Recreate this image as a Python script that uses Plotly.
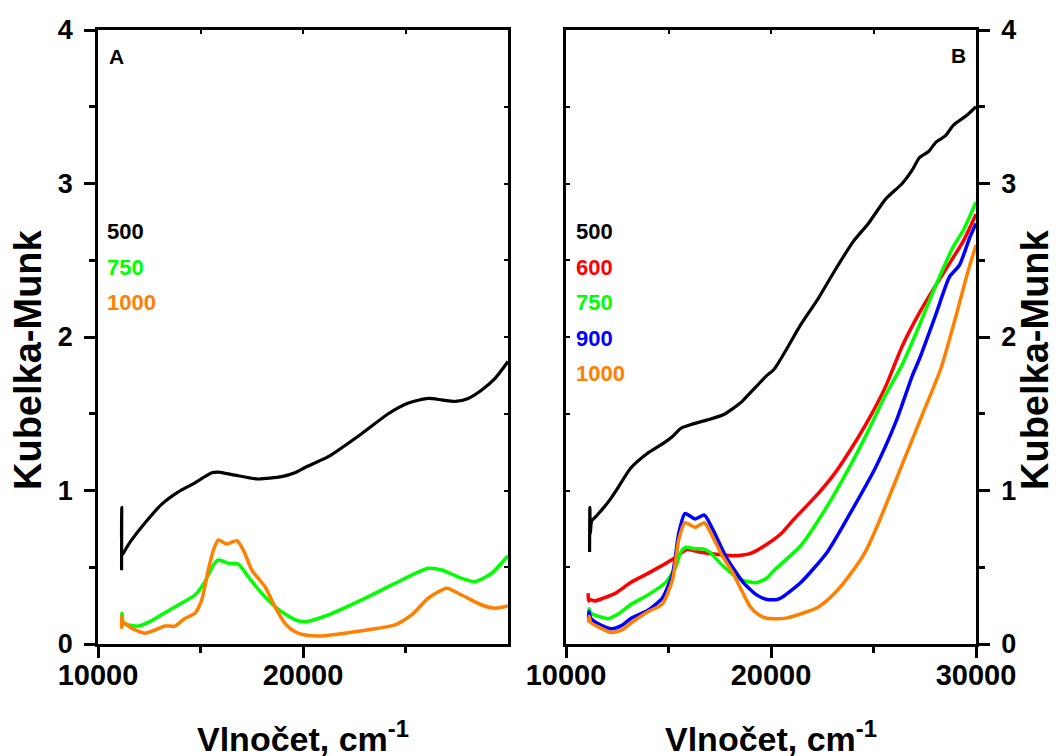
import plotly.graph_objects as go

# ---------------- data ----------------
# Panel A
a500_x = [11150, 11160, 11180, 11400, 11650, 12300, 13100, 13900, 14730, 15550, 15870, 16680, 17800, 18960,
          19600, 20100, 21230, 22860, 24160, 25140, 26110, 26770, 27420, 28060, 28720, 29370, 30000]
a500_y = [0.48, 0.89, 0.58, 0.63, 0.68, 0.79, 0.91, 0.99, 1.05, 1.115, 1.12, 1.10, 1.075, 1.09,
          1.115, 1.15, 1.22, 1.37, 1.50, 1.57, 1.60, 1.59, 1.58, 1.60, 1.655, 1.73, 1.84]

a750_x = [11150, 11170, 11240, 11480, 11970, 12620, 13270, 13920, 14730, 15220, 15630, 15870, 16360, 16840,
          17330, 17990, 18800, 19610, 20100, 21230, 22860, 24490, 26110, 26770, 27740, 28390, 29200, 30000]
a750_y = [0.15, 0.20, 0.135, 0.124, 0.117, 0.152, 0.204, 0.254, 0.319, 0.406, 0.515, 0.547, 0.526, 0.521,
          0.438, 0.330, 0.226, 0.158, 0.145, 0.189, 0.287, 0.395, 0.493, 0.482, 0.428, 0.406, 0.461, 0.575]

a1000_x = [11150, 11160, 11200, 11320, 11640, 12290, 12780, 13270, 13760, 14240, 14730, 15060, 15380, 15630,
           15870, 16280, 16770, 17090, 17500, 18150, 18630, 19120, 19610, 20100, 20910, 22050, 23670, 24490,
           25300, 26110, 27010, 27740, 28720, 29370, 30000]
a1000_y = [0.10, 0.18, 0.14, 0.135, 0.102, 0.070, 0.091, 0.117, 0.117, 0.167, 0.200, 0.287, 0.482, 0.612,
           0.678, 0.651, 0.673, 0.612, 0.482, 0.373, 0.243, 0.135, 0.080, 0.059, 0.052, 0.070, 0.102, 0.124,
           0.189, 0.298, 0.363, 0.319, 0.254, 0.233, 0.248]

# Panel B
b500_x = [11150, 11165, 11185, 11250, 11450, 11850, 12200, 12500, 13150, 13950, 14780, 15180, 15600,
          16100, 16900, 17700, 18500, 18800, 19300, 19800, 20150, 20800, 21450, 22300, 23100, 24000, 24750,
          25600, 26400, 26900, 27250, 27700, 28050, 28500, 28900, 29300, 29600, 30000]
b500_y = [0.60, 0.89, 0.72, 0.80, 0.83, 0.89, 0.95, 1.01, 1.145, 1.24, 1.31, 1.35, 1.405,
          1.43, 1.46, 1.495, 1.57, 1.61, 1.68, 1.75, 1.79, 1.93, 2.08, 2.25, 2.43, 2.62, 2.74,
          2.90, 3.00, 3.09, 3.17, 3.21, 3.27, 3.31, 3.38, 3.42, 3.45, 3.50]

b600_x = [11080, 11100, 11150, 11400, 11850, 12400, 13150, 14000, 14800, 15300, 15700, 15900, 16500, 17300,
          18150, 19000, 19800, 20500, 21100, 22300, 23100, 23900, 24750, 25600, 26400, 27250, 28050, 28900,
          29400, 30000]
b600_y = [0.33, 0.28, 0.29, 0.28, 0.30, 0.33, 0.40, 0.46, 0.52, 0.56, 0.60, 0.615, 0.60, 0.585,
          0.575, 0.59, 0.65, 0.72, 0.81, 0.98, 1.11, 1.27, 1.46, 1.68, 1.94, 2.16, 2.34, 2.52,
          2.63, 2.80]

b750_x = [11100, 11130, 11200, 11600, 12050, 12600, 13200, 14000, 14850, 15350, 15600, 15850, 16300, 16700,
          17000, 17650, 18500, 19300, 19800, 20150, 21450, 22750, 23900, 24750, 25500, 26400, 27250, 28050,
          28900, 29400, 30000]
b750_y = [0.18, 0.23, 0.20, 0.18, 0.165, 0.20, 0.26, 0.32, 0.40, 0.50, 0.60, 0.63, 0.62, 0.62,
          0.60, 0.51, 0.42, 0.40, 0.43, 0.48, 0.64, 0.90, 1.17, 1.39, 1.60, 1.82, 2.08, 2.34,
          2.59, 2.70, 2.88]

b900_x = [11100, 11130, 11200, 11600, 12200, 12700, 13200, 14000, 14700, 15200, 15500, 15800, 16300, 16750,
          17150, 17800, 18650, 19300, 19800, 20300, 20600, 21450, 22750, 23900, 25100, 26100, 26900, 27250,
          28050, 28700, 29200, 29700, 30000]
b900_y = [0.16, 0.21, 0.17, 0.13, 0.10, 0.12, 0.17, 0.22, 0.30, 0.46, 0.72, 0.85, 0.815, 0.84,
          0.75, 0.57, 0.40, 0.32, 0.29, 0.29, 0.31, 0.40, 0.60, 0.86, 1.15, 1.45, 1.75, 1.86,
          2.15, 2.39, 2.47, 2.65, 2.74]

b1000_x = [11100, 11130, 11200, 11600, 12200, 12700, 13200, 14000, 14700, 15200, 15500, 15800, 16300, 16750,
           17150, 17600, 18150, 18600, 19000, 19400, 19800, 20400, 20800, 22300, 23100, 23900, 24600, 25250,
           26400, 27400, 28300, 29050, 29550, 30000]
b1000_y = [0.14, 0.18, 0.14, 0.11, 0.075, 0.09, 0.14, 0.21, 0.26, 0.42, 0.68, 0.79, 0.76, 0.79,
           0.70, 0.58, 0.46, 0.34, 0.24, 0.19, 0.168, 0.165, 0.17, 0.24, 0.33, 0.46, 0.60, 0.79,
           1.17, 1.50, 1.80, 2.15, 2.40, 2.60]

labels_a = ["500", "750", "1000"]
labels_b = ["500", "600", "750", "900", "1000"]

x_major_a = [10000, 20000]
x_major_b = [10000, 20000, 30000]
x_minor = [15000, 25000]
y_major = [0, 1, 2, 3, 4]
y_minor = [0.5, 1.5, 2.5, 3.5]

# ---------------- styling ----------------
C = {"500": "#000000", "600": "#FF0000", "750": "#00FF00", "900": "#0000FF", "1000": "#FF8000"}
FONT = "Liberation Sans, Arial, sans-serif"
W, H = 1061, 756

fig = go.Figure()

def add(x, y, key, xa, ya, width=3.5):
    fig.add_trace(go.Scatter(x=x, y=y, mode="lines", xaxis=xa, yaxis=ya, showlegend=False,
                             line=dict(color=C[key], width=width, shape="spline", smoothing=0.6),
                             hoverinfo="skip"))

add(a750_x, a750_y, "750", "x", "y")
add(a1000_x, a1000_y, "1000", "x", "y")
add(a500_x, a500_y, "500", "x", "y", 3.2)

add(b600_x, b600_y, "600", "x2", "y2")
add(b750_x, b750_y, "750", "x2", "y2")
add(b900_x, b900_y, "900", "x2", "y2")
add(b1000_x, b1000_y, "1000", "x2", "y2")
add(b500_x, b500_y, "500", "x2", "y2", 3.2)

# dummy traces for mirror-tick axes
for xa, ya in [("x3", "y"), ("x", "y3"), ("x4", "y2"), ("x2", "y4")]:
    fig.add_trace(go.Scatter(x=[None], y=[None], xaxis=xa, yaxis=ya, showlegend=False, hoverinfo="skip"))

xd_a = [98 / W, 508 / W]
xd_b = [566 / W, 976 / W]
yd = [1 - 644 / H, 1 - 30 / H]

tickfont_x = dict(family=FONT, size=29, color="black", weight="bold")
tickfont_y = dict(family=FONT, size=27, color="black", weight="bold")

def xaxis(domain, anchor, tickvals):
    return dict(domain=domain, anchor=anchor, range=[10000, 30000], showgrid=False, zeroline=False,
                automargin=False,
                showline=True, linecolor="black", linewidth=2.5, mirror=True,
                tickmode="array", tickvals=tickvals, ticktext=[str(v) for v in tickvals],
                ticks="outside", ticklen=11, tickwidth=2.5, tickcolor="black",
                tickfont=tickfont_x, ticklabelstandoff=-8,
                minor=dict(tickvals=x_minor, ticks="outside", ticklen=6, tickwidth=2.5, tickcolor="black"))

def yaxis(domain, anchor, side):
    return dict(domain=domain, anchor=anchor, side=side, range=[0, 4], showgrid=False, zeroline=False,
                automargin=False,
                showline=True, linecolor="black", linewidth=2.5, mirror=True,
                tickmode="array", tickvals=y_major, ticktext=[str(v) for v in y_major],
                ticks="outside", ticklen=11, tickwidth=2.5, tickcolor="black",
                tickfont=tickfont_y, ticklabelstandoff=6,
                minor=dict(tickvals=y_minor, ticks="outside", ticklen=6, tickwidth=2.5, tickcolor="black"))

def mirror_x(over, anchor, domain):
    return dict(overlaying=over, anchor=anchor, side="top", domain=domain, range=[10000, 30000],
                showgrid=False, zeroline=False, showline=False, showticklabels=False, automargin=False,
                tickmode="array", tickvals=[15000, 20000, 25000], ticks="inside", ticklen=4,
                tickwidth=1.5, tickcolor="black")

def mirror_y(over, anchor, side, domain):
    return dict(overlaying=over, anchor=anchor, side=side, domain=domain, range=[0, 4],
                showgrid=False, zeroline=False, showline=False, showticklabels=False, automargin=False,
                tickmode="array", tickvals=[0.5, 1, 1.5, 2, 2.5, 3, 3.5], ticks="inside", ticklen=4,
                tickwidth=1.5, tickcolor="black")

fig.update_layout(
    width=W, height=H, margin=dict(l=0, r=0, t=0, b=0, autoexpand=False),
    paper_bgcolor="white", plot_bgcolor="white",
    xaxis=xaxis(xd_a, "y", x_major_a),
    yaxis=yaxis(yd, "x", "left"),
    xaxis2=xaxis(xd_b, "y2", x_major_b),
    yaxis2=yaxis(yd, "x2", "right"),
    xaxis3=mirror_x("x", "y", xd_a),
    yaxis3=mirror_y("y", "x", "right", yd),
    xaxis4=mirror_x("x2", "y2", xd_b),
    yaxis4=mirror_y("y2", "x2", "left", yd),
)

def px_x(p):
    return p / W

def px_y(p):
    return 1 - p / H

ann = []
# axis titles
for cx in [303, 771]:
    ann.append(dict(text="Vlnočet, cm<sup>-1</sup>", x=px_x(cx), y=px_y(736), xref="paper", yref="paper",
                    xanchor="center", yanchor="middle", showarrow=False,
                    font=dict(family=FONT, size=34, color="black", weight="bold")))
for cx in [28, 1035]:
    ann.append(dict(text="Kubelka-Munk", x=px_x(cx), y=px_y(360), xref="paper", yref="paper",
                    xanchor="center", yanchor="middle", textangle=-90, showarrow=False,
                    font=dict(family=FONT, size=38, color="black", weight="bold")))
# panel letters
ann.append(dict(text="A", x=px_x(116), y=px_y(57), xref="paper", yref="paper", xanchor="center",
                yanchor="middle", showarrow=False, font=dict(family=FONT, size=21, color="black", weight="bold")))
ann.append(dict(text="B", x=px_x(958), y=px_y(55), xref="paper", yref="paper", xanchor="center",
                yanchor="middle", showarrow=False, font=dict(family=FONT, size=21, color="black", weight="bold")))
# series labels
ys = [231.5, 267, 302.5, 338, 373.5]
for i, lab in enumerate(labels_a):
    ann.append(dict(text=lab, x=px_x(105), y=px_y(ys[i]), xref="paper", yref="paper", xanchor="left",
                    yanchor="middle", showarrow=False,
                    font=dict(family=FONT, size=22, color=C[lab], weight="bold")))
for i, lab in enumerate(labels_b):
    ann.append(dict(text=lab, x=px_x(574), y=px_y(ys[i]), xref="paper", yref="paper", xanchor="left",
                    yanchor="middle", showarrow=False,
                    font=dict(family=FONT, size=22, color=C[lab], weight="bold")))
fig.update_layout(annotations=ann)

fig.write_html("out.html")
